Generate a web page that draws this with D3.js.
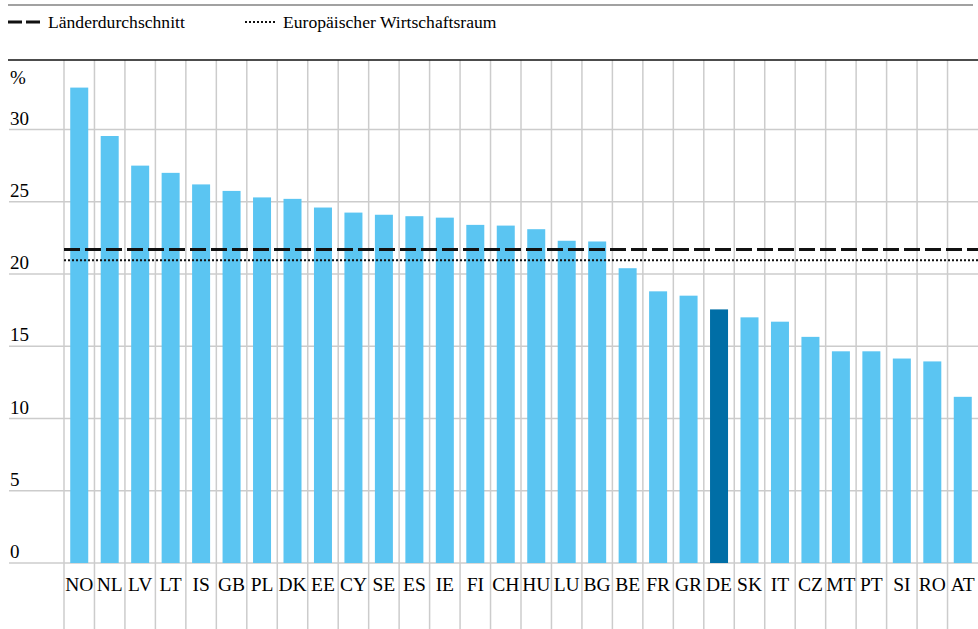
<!doctype html>
<html>
<head>
<meta charset="utf-8">
<style>
  body { margin: 0; background: #fff; }
  svg text { font-family: "Liberation Serif", "Times New Roman", serif; fill: #000; }
</style>
<script src="https://d3js.org/d3.v7.min.js"></script>
</head>
<body>
<svg id="chart" width="978" height="629"></svg>
<script>
// data
var countries = ["NO","NL","LV","LT","IS","GB","PL","DK","EE","CY","SE","ES","IE","FI","CH",
                 "HU","LU","BG","BE","FR","GR","DE","SK","IT","CZ","MT","PT","SI","RO","AT"];
var values = [32.9, 29.55, 27.5, 27.0, 26.2, 25.75, 25.3, 25.2, 24.6, 24.25, 24.1, 24.0, 23.9, 23.4, 23.35,
              23.1, 22.3, 22.25, 20.4, 18.8, 18.5, 17.55, 17.0, 16.7, 15.65, 14.65, 14.65, 14.15, 13.95, 11.5];
var yTicks = [0, 5, 10, 15, 20, 25, 30];
var countryAverage = 21.7;   // Länderdurchschnitt
var eeaAverage = 20.95;      // Europäischer Wirtschaftsraum
var highlight = "DE";

var svg = d3.select("#chart");
var plotLeft = 64, plotRight = 978, plotTop = 60, plotBottom = 563;

var x = d3.scaleBand().domain(countries).range([plotLeft, plotRight]).padding(0);
var y = d3.scaleLinear().domain([0, 30]).range([plotBottom, 129.5]);

// top rule + legend
svg.append("line").attr("x1", 8).attr("x2", 973).attr("y1", 5).attr("y2", 5)
   .attr("stroke", "#444").attr("stroke-width", 1.2);

svg.append("line").attr("x1", 8).attr("x2", 40).attr("y1", 22).attr("y2", 22)
   .attr("stroke", "#111").attr("stroke-width", 3).attr("stroke-dasharray", "14,4");
svg.append("text").attr("x", 48).attr("y", 28).attr("font-size", "17.6px").text("Länderdurchschnitt");

svg.append("line").attr("x1", 245).attr("x2", 275).attr("y1", 22).attr("y2", 22)
   .attr("stroke", "#111").attr("stroke-width", 2).attr("stroke-dasharray", "2,2");
svg.append("text").attr("x", 283).attr("y", 28).attr("font-size", "17.6px").text("Europäischer Wirtschaftsraum");

// horizontal grid
svg.append("g").selectAll("line").data(yTicks).enter().append("line")
   .attr("x1", 9).attr("x2", plotRight)
   .attr("y1", function(d) { return y(d); }).attr("y2", function(d) { return y(d); })
   .attr("stroke", "#cccccc").attr("stroke-width", 1.5);

// vertical grid at band edges
var edges = countries.map(function(c) { return x(c); });
svg.append("g").selectAll("line").data(edges).enter().append("line")
   .attr("x1", function(d) { return d; }).attr("x2", function(d) { return d; })
   .attr("y1", plotTop).attr("y2", 629)
   .attr("stroke", "#cccccc").attr("stroke-width", 1.5);

// y tick labels
svg.append("g").selectAll("text").data(yTicks).enter().append("text")
   .attr("x", 10).attr("y", function(d) { return y(d) - 5; })
   .attr("font-size", "19px").text(function(d) { return d; });
svg.append("text").attr("x", 10).attr("y", 84).attr("font-size", "19px").text("%");

// black rule under legend
svg.append("line").attr("x1", 8).attr("x2", plotRight).attr("y1", plotTop).attr("y2", plotTop)
   .attr("stroke", "#111").attr("stroke-width", 1.5);

// bars
var data = countries.map(function(c, i) { return { c: c, v: values[i] }; });
var barW = 18;
svg.append("g").selectAll("rect").data(data).enter().append("rect")
   .attr("x", function(d) { return x(d.c) + (x.bandwidth() - barW) / 2; })
   .attr("width", barW)
   .attr("y", function(d) { return y(d.v); })
   .attr("height", function(d) { return y(0) - y(d.v); })
   .attr("fill", function(d) { return d.c === highlight ? "#006ea6" : "#5bc5f2"; });

// reference lines
svg.append("line").attr("x1", plotLeft).attr("x2", plotRight)
   .attr("y1", y(countryAverage)).attr("y2", y(countryAverage))
   .attr("stroke", "#111").attr("stroke-width", 3).attr("stroke-dasharray", "16,5");
svg.append("line").attr("x1", plotLeft).attr("x2", plotRight)
   .attr("y1", y(eeaAverage)).attr("y2", y(eeaAverage))
   .attr("stroke", "#111").attr("stroke-width", 2).attr("stroke-dasharray", "2,2");

// category labels
svg.append("g").selectAll("text").data(countries).enter().append("text")
   .attr("x", function(d) { return x(d) + x.bandwidth() / 2; })
   .attr("y", 591).attr("text-anchor", "middle")
   .attr("font-size", "19.5px").text(function(d) { return d; });
</script>
</body>
</html>
